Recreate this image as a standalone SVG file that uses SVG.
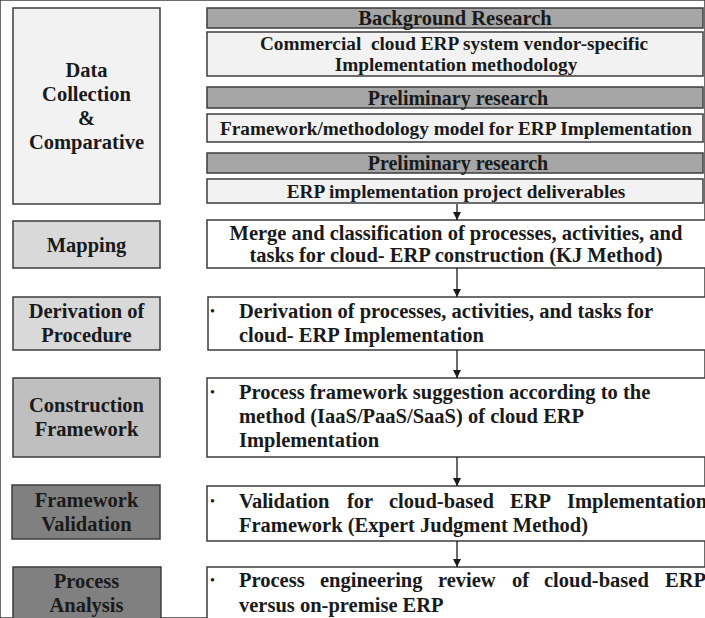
<svg xmlns="http://www.w3.org/2000/svg" width="705" height="618" viewBox="0 0 705 618">
<style>
rect{stroke:#3c3c3c;stroke-width:1.5}
text{font-family:'Liberation Serif','Times New Roman',serif;font-weight:700;font-size:20.5px;fill:#1a1a1a}
.c{text-anchor:middle}
.s{font-size:19.3px}
.m{font-size:20px}
.bar{fill:#a6a6a6}
.lt{fill:#f2f2f2}
.wh{fill:#ffffff}
.g1{fill:#d9d9d9}
.g2{fill:#bfbfbf}
.g3{fill:#808080}
.bul{font-size:14px;font-weight:400}
.conn line{stroke:#1a1a1a;stroke-width:1.3;marker-end:url(#ah)}
</style>
<defs>
<marker id="ah" viewBox="0 0 8 8" refX="8" refY="4" markerWidth="8" markerHeight="8" markerUnits="userSpaceOnUse" orient="auto">
<path d="M0,0 L8,4 L0,8 z" fill="#1a1a1a"/>
</marker>
</defs>
<rect width="705" height="618" fill="#ffffff" stroke="none"/>

<g id="data-collection">
<rect class="lt" x="13" y="8" width="147" height="196"/>
<text class="c" x="86.5" y="77">Data</text>
<text class="c" x="86.5" y="101">Collection</text>
<text class="c" x="86.5" y="125">&amp;</text>
<text class="c" x="86.5" y="149">Comparative</text>
</g>

<g id="background-research">
<rect class="bar" x="207" y="8" width="496" height="20"/>
<text class="c" x="455" y="25">Background Research</text>
</g>
<g id="commercial">
<rect class="lt" x="207" y="32" width="496" height="44"/>
<text class="c s" x="454" y="50" xml:space="preserve">Commercial  cloud ERP system vendor-specific</text>
<text class="c s" x="456" y="71">Implementation methodology</text>
</g>
<g id="preliminary-1">
<rect class="bar" x="207" y="87" width="496" height="21"/>
<text class="c m" x="458" y="105">Preliminary research</text>
</g>
<g id="framework-model">
<rect class="lt" x="207" y="114" width="496" height="28"/>
<text class="c s" x="456" y="135">Framework/methodology model for ERP Implementation</text>
</g>
<g id="preliminary-2">
<rect class="bar" x="207" y="153" width="496" height="20"/>
<text class="c m" x="458" y="170">Preliminary research</text>
</g>
<g id="deliverables">
<rect class="lt" x="207" y="179" width="496" height="24"/>
<text class="c s" x="456" y="198">ERP implementation project deliverables</text>
</g>

<g id="mapping">
<rect class="g1" x="13" y="221" width="147" height="47"/>
<text class="c" x="86.5" y="252">Mapping</text>
</g>
<g id="merge">
<rect class="wh" x="207" y="220" width="510" height="48"/>
<text class="c" x="456" y="240">Merge and classification of processes, activities, and</text>
<text class="c" x="456" y="262">tasks for cloud- ERP construction (KJ Method)</text>
</g>

<g id="derivation">
<rect class="g1" x="13" y="297" width="147" height="53"/>
<text class="c" x="86.5" y="318">Derivation of</text>
<text class="c" x="86.5" y="342">Procedure</text>
</g>
<g id="derivation-desc">
<rect class="wh" x="208" y="297" width="510" height="53"/>
<text class="bul" x="210" y="316">•</text>
<text x="239" y="318">Derivation of processes, activities, and tasks for</text>
<text x="239" y="342">cloud- ERP Implementation</text>
</g>

<g id="construction">
<rect class="g2" x="13" y="378" width="147" height="79"/>
<text class="c" x="86.5" y="412">Construction</text>
<text class="c" x="86.5" y="436">Framework</text>
</g>
<g id="construction-desc">
<rect class="wh" x="207" y="378" width="510" height="79"/>
<text class="bul" x="210" y="397">•</text>
<text x="239" y="399">Process framework suggestion according to the</text>
<text x="239" y="423">method (IaaS/PaaS/SaaS) of cloud ERP</text>
<text x="239" y="447">Implementation</text>
</g>

<g id="validation">
<rect class="g3" x="12" y="485" width="148" height="54"/>
<text class="c" x="86.5" y="507">Framework</text>
<text class="c" x="86.5" y="531">Validation</text>
</g>
<g id="validation-desc">
<rect class="wh" x="207" y="486" width="510" height="55"/>
<text class="bul" x="210" y="506">•</text>
<text y="508"><tspan x="239">Validation</tspan><tspan x="347">for</tspan><tspan x="389">cloud-based</tspan><tspan x="510">ERP</tspan><tspan x="567">Implementation</tspan></text>
<text x="239" y="532">Framework (Expert Judgment Method)</text>
</g>

<g id="process-analysis">
<rect class="g3" x="13" y="567" width="148" height="60"/>
<text class="c" x="86.5" y="588">Process</text>
<text class="c" x="86.5" y="612">Analysis</text>
</g>
<g id="process-desc">
<rect class="wh" x="207" y="567" width="510" height="60"/>
<text class="bul" x="210" y="585">•</text>
<text y="587"><tspan x="239">Process</tspan><tspan x="320">engineering</tspan><tspan x="438">review</tspan><tspan x="512">of</tspan><tspan x="544">cloud-based</tspan><tspan x="665">ERP</tspan></text>
<text x="239" y="612">versus on-premise ERP</text>
</g>

<g id="connectors" class="conn">
<line x1="457" y1="204" x2="457" y2="220"/>
<line x1="457" y1="268" x2="457" y2="297"/>
<line x1="457" y1="350" x2="457" y2="378"/>
<line x1="457" y1="457" x2="457" y2="486"/>
<line x1="457" y1="541" x2="457" y2="567"/>
</g>
</svg>
